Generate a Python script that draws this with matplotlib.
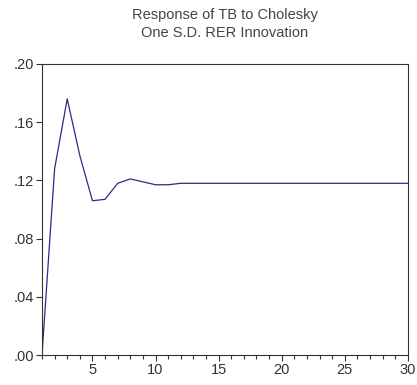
import matplotlib
matplotlib.use("Agg")
import matplotlib.pyplot as plt
from matplotlib.ticker import MultipleLocator, FixedLocator, FuncFormatter

plt.rcParams['font.family'] = ['Liberation Sans', 'DejaVu Sans']

periods = list(range(1, 31))
response = [0.000, 0.128, 0.176, 0.137, 0.106, 0.107, 0.118, 0.121, 0.119, 0.117,
            0.117, 0.118, 0.118, 0.118, 0.118, 0.118, 0.118, 0.118, 0.118, 0.118,
            0.118, 0.118, 0.118, 0.118, 0.118, 0.118, 0.118, 0.118, 0.118, 0.118]
title_lines = ["Response of TB to Cholesky", "One S.D. RER Innovation"]
yticks = [0.00, 0.04, 0.08, 0.12, 0.16, 0.20]
xlabels = [5, 10, 15, 20, 25, 30]

fig = plt.figure(figsize=(4.17, 3.85), dpi=100)
left, width = 0.1007, 0.8773
ax = fig.add_axes([left, 0.0779, width, 0.7559])
ax.plot(periods, response, color='#2a2a8a', lw=0.9)
ax.set_xlim(1, 30)
ax.set_ylim(0, 0.20)
ax.set_yticks(yticks)
ax.yaxis.set_major_formatter(FuncFormatter(lambda v, p: ('%.2f' % v)[1:] if v >= 0 else '%.2f' % v))
ax.xaxis.set_major_locator(FixedLocator(xlabels))
ax.xaxis.set_minor_locator(MultipleLocator(1))
ax.tick_params(axis='both', direction='out', labelsize=10.5, colors='#333333', length=4, width=0.8, pad=2)
ax.tick_params(axis='x', which='minor', direction='out', length=3, width=0.8, colors='#333333')
for s in ax.spines.values():
    s.set_color('#333333')
    s.set_linewidth(0.8)
cx = left + width / 2
fig.text(cx, 0.961, title_lines[0], ha='center', va='center', fontsize=10.5, color='#444444')
fig.text(cx, 0.913, title_lines[1], ha='center', va='center', fontsize=10.5, color='#444444')
fig.savefig('out.png', dpi=100)
